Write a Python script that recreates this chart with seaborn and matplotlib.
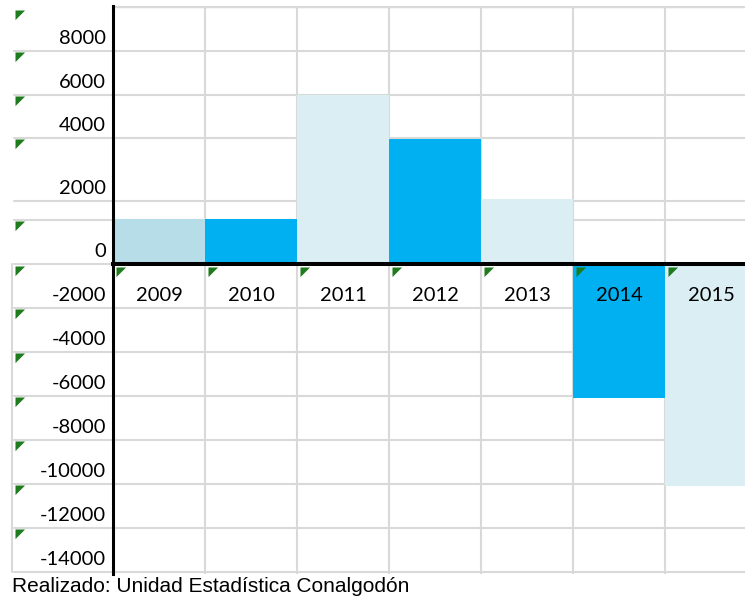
import matplotlib
matplotlib.use("Agg")
import matplotlib.pyplot as plt
import matplotlib.transforms as mtransforms
import seaborn as sns
import pandas as pd

# ---- data ----
years = ["2009", "2010", "2011", "2012", "2013", "2014", "2015"]
values = [2050, 2050, 7700, 5700, 2950, -6100, -10100]
bar_colors = ["#B7DDE8", "#00B0F0", "#DAEEF3", "#00B0F0", "#DAEEF3", "#00B0F0", "#DAEEF3"]
ytick_labels = ["8000", "6000", "4000", "2000", "0", "-2000", "-4000",
                "-6000", "-8000", "-10000", "-12000", "-14000"]
source_text = "Realizado: Unidad Estadística Conalgodón"

# ---- spreadsheet-like layout (styling) ----
ylim = (-14090, 11730)
label_rows = [9680, 7680, 5730, 2860, 0, -2000, -4000, -6000, -8000, -10000, -12000, -14000]
extra_rows = [2000]
tri_rows = [11550, 9630, 7630, 5680, 1950, -80, -2050, -4050, -6050, -8050, -10050, -12050]
grid_color = "#D9D9D9"
left_ext = -0.157

df = pd.DataFrame({"year": years, "value": values})

sns.set_style("white")
plt.rcParams["font.family"] = ["Lato", "DejaVu Sans"]

fig = plt.figure(figsize=(7.45, 5.99), dpi=100)
ax = fig.add_axes([113 / 745, 1 - 574 / 599, 632 / 745, 568 / 599])

sns.barplot(data=df, x="year", y="value", hue="year", palette=bar_colors,
            width=1.0, saturation=1, legend=False, ax=ax, linewidth=0, zorder=2)

ax.set_axisbelow(False)
ax.set_xlim(-0.5, 6.37)
ax.set_ylim(*ylim)

# grid rows / columns
for r in label_rows + extra_rows:
    ax.axhline(r, xmin=left_ext, xmax=1, color=grid_color, lw=1.5, zorder=0, clip_on=False)
ax.axhline(ylim[1], xmin=0, xmax=1, color=grid_color, lw=2.5, zorder=0)
for i in range(len(years) - 1):
    ax.axvline(i + 0.5, color=grid_color, lw=1.5, zorder=0)
blend = mtransforms.blended_transform_factory(ax.transAxes, ax.transData)
ax.plot([left_ext - 0.003, left_ext - 0.003], [0, label_rows[-1]], color=grid_color,
        lw=1.5, transform=blend, clip_on=False, zorder=0)

# spines
for s in ["top", "right"]:
    ax.spines[s].set_visible(False)
ax.spines["left"].set_linewidth(2.2)
ax.spines["left"].set_color("black")
ax.spines["bottom"].set_position(("data", 0))
ax.spines["bottom"].set_linewidth(2.9)
ax.spines["bottom"].set_color("black")
ax.spines["bottom"].set_zorder(3)

# y tick labels sit in the cell above each row line
ax.set_yticks(label_rows)
ax.set_yticklabels(ytick_labels)
ax.tick_params(axis="y", length=0, pad=5, labelsize=14.5, labelcolor="black")
offset = mtransforms.ScaledTranslation(0, 0.14, fig.dpi_scale_trans)
for lab in ax.get_yticklabels():
    lab.set_transform(lab.get_transform() + offset)

ax.set_xticks(range(len(years)))
ax.set_xticklabels(years)
ax.tick_params(axis="x", length=0, pad=16.5, labelsize=14.5, labelcolor="black")
ax.set_xlabel("")
ax.set_ylabel("")

# little green "number stored as text" markers
tri = [(0, 0), (1, 0), (0, -1), (0, 0)]
ax.scatter([-0.155] * len(tri_rows), tri_rows, marker=tri, s=190, color="#1E7B1E",
           transform=blend, clip_on=False, zorder=5, linewidths=0)
ax.scatter([i - 0.47 for i in range(len(years))], [-120] * len(years), marker=tri, s=190,
           color="#1E7B1E", clip_on=False, zorder=5, linewidths=0)

fig.text(12 / 745, 1 - 586 / 599, source_text, family="Liberation Sans",
         fontsize=15, va="center", ha="left", color="black")

fig.savefig("out.png", dpi=100)
